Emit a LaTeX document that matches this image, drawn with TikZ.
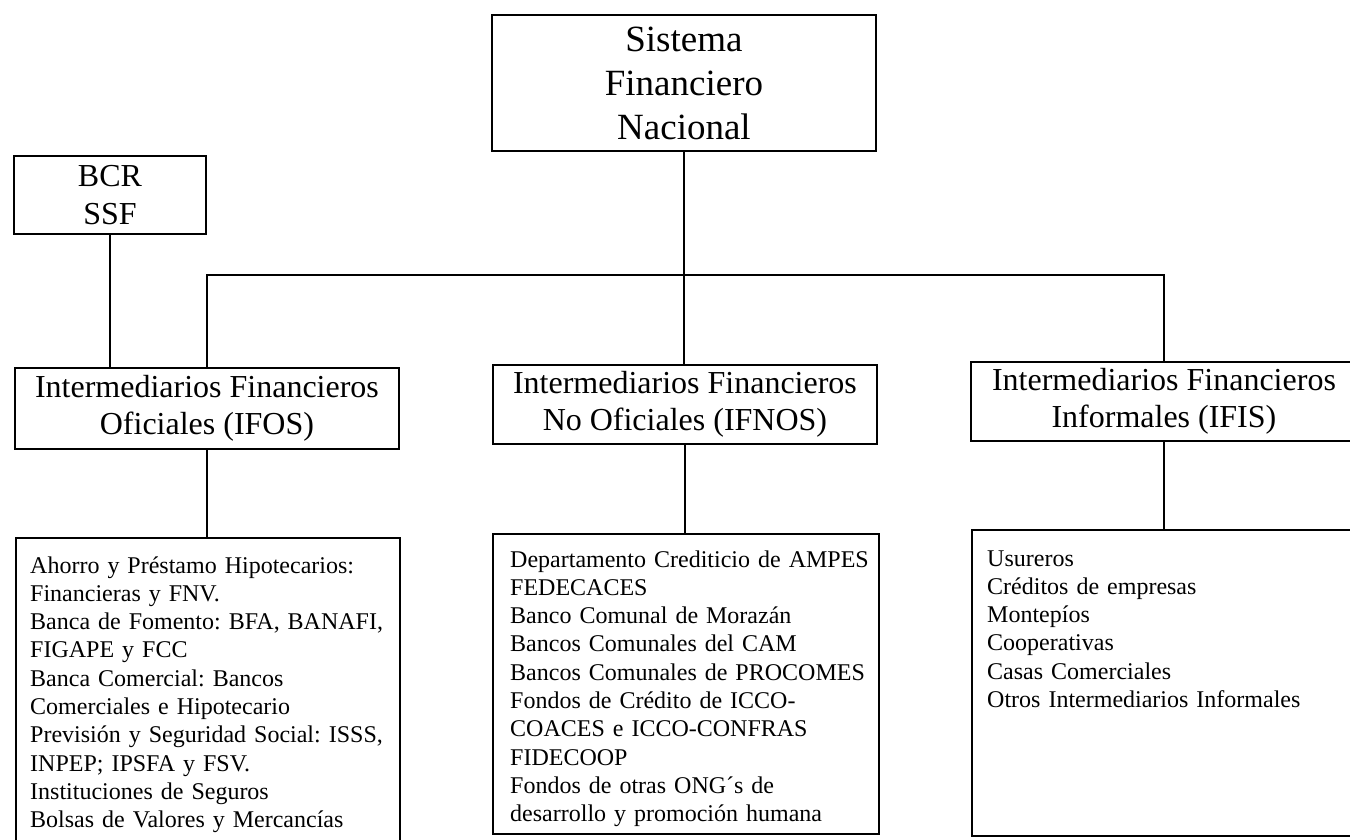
\documentclass[tikz,border=0pt]{standalone}
\usepackage{fontspec}
\setmainfont{Liberation Serif}
\frenchspacing
\begin{document}
\begin{tikzpicture}[x=1pt,y=-1pt,
  box/.style={draw, line width=1.9pt, inner sep=0pt, anchor=north west},
  head/.style={box, align=center, font=\fontsize{32}{37.5}\selectfont},
  list/.style={anchor=base west, inner sep=0pt, align=left, text width=#1, font=\fontsize{24}{28.3}\selectfont},
  conn/.style={line width=1.9pt}]
\path[use as bounding box, fill=white] (0,0) rectangle (1350,839);
\clip (0,0) rectangle (1350,839);

% header boxes
\node[head, minimum width=384pt, minimum height=136pt, font=\fontsize{37}{44}\selectfont] (sfn) at (491,14) {Sistema\\Financiero\\Nacional};
\node[head, minimum width=192pt, minimum height=78pt] (bcr) at (13,155) {BCR\\SSF};
\node[head, minimum width=384pt, minimum height=81pt] (ifos) at (14,367) {Intermediarios Financieros\\Oficiales (IFOS)};
\node[head, minimum width=384pt, minimum height=79pt] (ifnos) at (492,364) {Intermediarios Financieros\\No Oficiales (IFNOS)};
\node[head, minimum width=386pt, minimum height=79pt] (ifis) at (970,361) {Intermediarios Financieros\\Informales (IFIS)};

% list boxes
\node[box, minimum width=384pt, minimum height=312pt] (lifos) at (15,537) {};
\node[box, minimum width=386pt, minimum height=300pt] (lifnos) at (492,533) {};
\node[box, minimum width=386pt, minimum height=306pt] (lifis) at (971,529) {};

\node[list=370pt] (tifos) at (30,573) {Ahorro y Préstamo Hipotecarios:\\
Financieras y FNV.\\
Banca de Fomento: BFA, BANAFI,\\
FIGAPE y FCC\\
Banca Comercial: Bancos\\
Comerciales e Hipotecario\\
Previsión y Seguridad Social: ISSS,\\
INPEP; IPSFA y FSV.\\
Instituciones de Seguros\\
Bolsas de Valores y Mercancías};

\node[list=362pt] (tifnos) at (510,567) {Departamento Crediticio de AMPES\\
FEDECACES\\
Banco Comunal de Morazán\\
Bancos Comunales del CAM\\
Bancos Comunales de PROCOMES\\
Fondos de Crédito de ICCO-\\
COACES e ICCO-CONFRAS\\
FIDECOOP\\
Fondos de otras ONG´s de\\
desarrollo y promoción humana};

\node[list=355pt] (tifis) at (987,566) {Usureros\\
Créditos de empresas\\
Montepíos\\
Cooperativas\\
Casas Comerciales\\
Otros Intermediarios Informales};

% connectors
\coordinate (bar) at (684,275);
\draw[conn] (sfn.south) -- (sfn.south |- ifnos.north);
\draw[conn] (ifos.north) -- (ifos.north |- bar) -- (ifis.north |- bar) -- (ifis.north);
\draw[conn] (bcr.south) -- (bcr.south |- ifos.north);
\draw[conn] (ifos.south) -- (ifos.south |- lifos.north);
\draw[conn] (ifnos.south) -- (ifnos.south |- lifnos.north);
\draw[conn] (ifis.south) -- (ifis.south |- lifis.north);
\end{tikzpicture}
\end{document}
